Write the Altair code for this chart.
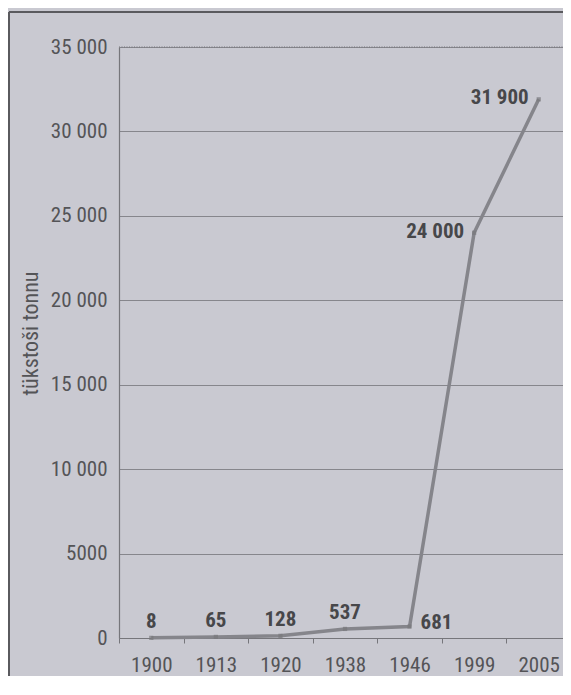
import altair as alt
import pandas as pd

years = ["1900", "1913", "1920", "1938", "1946", "1999", "2005"]
values = [8, 65, 128, 537, 681, 24000, 31900]
labels = ["8", "65", "128", "537", "681", "24 000", "31 900"]
label_pos = ["above", "above", "above", "above", "right", "left", "left"]
y_ticks = [0, 5000, 10000, 15000, 20000, 25000, 30000, 35000]
y_title = "tükstoši tonnu"

df = pd.DataFrame({"year": years, "value": values, "label": labels, "pos": label_pos})

FONT = "Liberation Sans Narrow, Roboto Condensed, DejaVu Sans Condensed, sans-serif"
W, H = 444, 591
XR = 452
LINE = "#85858b"
TEXT = "#545457"
AX = "#76767b"

xs = alt.X("year:N", sort=years, title=None,
           scale=alt.Scale(type="band", paddingInner=0, paddingOuter=0, range=[0, XR]),
           axis=alt.Axis(tickBand="extent", labelAngle=0, labelFont=FONT, labelFontSize=21,
                         labelColor=TEXT, labelPadding=11, tickSize=5, tickColor=AX,
                         domainColor=AX, domainWidth=1.2, grid=False))
ys = alt.Y("value:Q", title=y_title,
           scale=alt.Scale(domain=[0, 35000], nice=False),
           axis=alt.Axis(values=y_ticks, ticks=False, labelFont=FONT, labelFontSize=21,
                         labelColor=TEXT, labelPadding=12, titleFont=FONT, titleFontSize=22,
                         titleFontWeight="normal", titleColor=TEXT, titlePadding=8,
                         titleY=286, titleAlign="center",
                         gridColor="#86868c", gridWidth=1, domainColor=AX,
                         domainWidth=1.2,
                         labelExpr="datum.value >= 10000 ? replace(format(datum.value, ','), ',', ' ') : format(datum.value, 'd')"))

base = alt.Chart(df)

line = base.mark_line(color=LINE, strokeWidth=3.5).encode(x=xs, y=ys)
pts = base.mark_point(shape="square", filled=True, size=18, color="#77777c").encode(x=xs, y=ys)

tstyle = dict(font=FONT, fontSize=21, fontWeight="bold", color="#47474a")
t_above = base.transform_filter("datum.pos == 'above'").mark_text(
    align="center", baseline="middle", dy=-16, **tstyle).encode(x=xs, y=ys, text="label:N")
t_right = base.transform_filter("datum.pos == 'right'").mark_text(
    align="left", baseline="middle", dx=11, dy=-4, **tstyle).encode(x=xs, y=ys, text="label:N")
t_left = base.transform_filter("datum.pos == 'left'").mark_text(
    align="right", baseline="middle", dx=-10, dy=-1, **tstyle).encode(x=xs, y=ys, text="label:N")

one = pd.DataFrame({"a": [0]})
top_rule = alt.Chart(one).mark_rule(color=AX, strokeDash=[1, 1.5], strokeWidth=1.2).encode(
    x=alt.value(0), x2=alt.value(W), y=alt.value(0))
FR = "#5a5a5e"
frame_left = alt.Chart(one).mark_rule(color=FR, strokeWidth=2).encode(
    x=alt.value(-110), y=alt.value(-35), y2=alt.value(680))
frame_top = alt.Chart(one).mark_rule(color=FR, strokeWidth=2).encode(
    x=alt.value(-110), x2=alt.value(470), y=alt.value(-35))

chart = alt.layer(frame_left, frame_top, top_rule,
                  line, pts, t_above, t_right, t_left).properties(
    width=W, height=H,
    autosize=alt.AutoSizeParams(type="none"),
    padding={"left": 111, "top": 39, "right": 0, "bottom": 38},
    background="#c9c9d1",
).configure_view(stroke=None)

chart.save("out.html", embed_options={"renderer": "svg", "actions": False})
